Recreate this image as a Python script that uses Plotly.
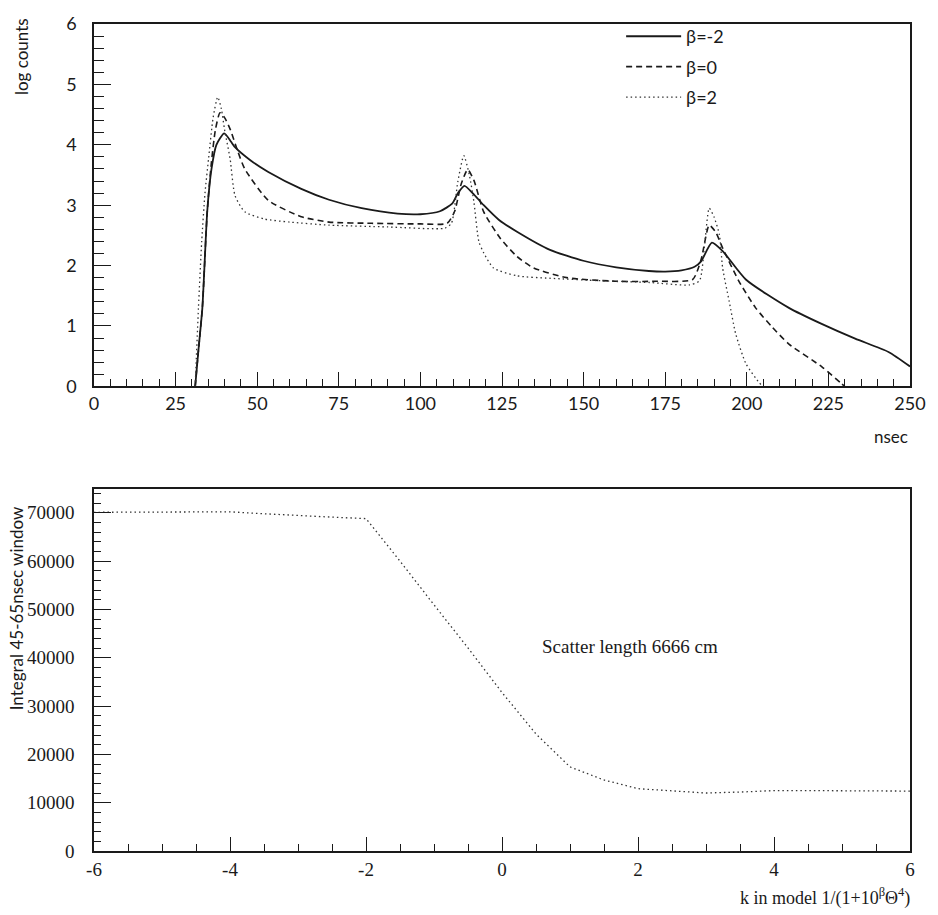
import plotly.graph_objects as go

# ---- top panel: log counts vs time for three beta values ----
t_bm2 = [31, 32, 33.2, 34.7, 36, 37.5, 39.9, 42, 43.2, 48, 53.4, 63.5, 72, 82, 93, 100, 106,
         109.8, 111.5, 113.5, 116, 119.4, 124, 129.6, 139.7, 149.9, 160, 170, 175, 180, 184,
         186, 189.3, 192.6, 199.7, 212.9, 223.1, 233.2, 243.4, 250]
y_bm2 = [0, 0.6, 1.3, 2.9, 3.6, 4.0, 4.19, 4.05, 3.96, 3.74, 3.55, 3.27, 3.09, 2.95, 2.86, 2.85, 2.9,
         3.03, 3.2, 3.32, 3.2, 3.0, 2.76, 2.56, 2.26, 2.08, 1.97, 1.91, 1.90, 1.92, 1.98,
         2.07, 2.38, 2.24, 1.77, 1.30, 1.03, 0.79, 0.57, 0.33]

t_b0 = [31, 32, 33.2, 34.7, 36, 37.2, 38.6, 40, 41.7, 44, 46.2, 53.4, 63.5, 72, 85, 100, 108.2,
        110.5, 112.5, 114.5, 116.4, 119.4, 124.5, 129.6, 134.7, 144.8, 160, 172.3, 183.4, 186,
        188.5, 190.5, 192.6, 197.6, 202.7, 207.8, 212.9, 223.1, 228.7, 230]
y_b0 = [0, 0.6, 1.3, 2.9, 3.72, 4.25, 4.53, 4.45, 4.26, 3.9, 3.60, 3.08, 2.81, 2.72, 2.70, 2.69, 2.70,
        2.9, 3.35, 3.59, 3.41, 2.89, 2.45, 2.15, 1.96, 1.80, 1.74, 1.74, 1.77, 2.1,
        2.67, 2.55, 2.29, 1.74, 1.30, 0.98, 0.70, 0.32, 0.06, 0]

t_b2 = [31, 32, 33, 34, 35.1, 36.5, 37.9, 39, 40, 41.7, 43.2, 46.2, 52.3, 60, 72, 90, 107.5,
        109.5, 111.5, 113.3, 115, 116.4, 117.9, 119.4, 122.4, 129.6, 139.7, 155, 170.2, 182.4,
        185.5, 187, 188.5, 190, 191.6, 192.6, 194.6, 196.6, 199.7, 203.8, 205]
y_b2 = [0, 1.3, 2.4, 3.2, 3.77, 4.45, 4.79, 4.6, 4.25, 3.77, 3.16, 2.89, 2.77, 2.72, 2.67, 2.64, 2.62,
        2.7, 3.4, 3.82, 3.5, 3.05, 2.40, 2.21, 1.96, 1.83, 1.79, 1.75, 1.72, 1.68,
        1.75, 2.3, 2.95, 2.8, 2.51, 1.96, 1.41, 0.87, 0.38, 0.06, 0]

nsec_ticks = [0, 25, 50, 75, 100, 125, 150, 175, 200, 225, 250]

# ---- bottom panel: integral of the 45-65 nsec window vs k ----
k_vals = [-6, -5.5, -5, -4.5, -4, -3.5, -3, -2.5, -2, -1.5, -1, -0.5, 0, 0.5, 1,
          1.5, 2, 2.5, 3, 3.5, 4, 4.5, 5, 5.5, 6]
integral_vals = [70100, 70100, 70100, 70200, 70200, 69800, 69400, 69100, 68800, 60000, 50950,
                 42030, 32800, 24220, 17400, 14700, 12900, 12400, 12000, 12200, 12500, 12500,
                 12500, 12400, 12400]

k_ticks = [-6, -4, -2, 0, 2, 4, 6]
k_ticktext = ["-6", "-4", "-2", "0", "2", "4", "6"]

W, H = 938, 915
ML, MR, MT, MB = 94, 22, 18, 64
PW, PH = W - ML - MR, H - MT - MB


def xp(px):
    return (px - ML) / PW


def yp(py):
    return (H - MB - py) / PH


INK = "#1a1a1a"
SANS = "Lato"
SERIF = "Liberation Serif"

fig = go.Figure()
fig.add_trace(go.Scatter(x=t_bm2, y=y_bm2, mode="lines", name="β=-2", legendgroup="a",
                         line=dict(color=INK, width=1.8, dash="solid", shape="spline", smoothing=0.6),
                         xaxis="x", yaxis="y"))
fig.add_trace(go.Scatter(x=t_b0, y=y_b0, mode="lines", name="β=0", legendgroup="b",
                         line=dict(color=INK, width=1.6, dash="6px,4px", shape="spline", smoothing=0.6),
                         xaxis="x", yaxis="y"))
fig.add_trace(go.Scatter(x=t_b2, y=y_b2, mode="lines", name="β=2", legendgroup="c",
                         line=dict(color="#333333", width=1.3, dash="1.5px,3px", shape="spline", smoothing=0.6),
                         xaxis="x", yaxis="y"))
fig.add_trace(go.Scatter(x=k_vals, y=integral_vals, mode="lines", showlegend=False,
                         line=dict(color="#333333", width=1.3, dash="1.5px,3px"),
                         xaxis="x2", yaxis="y2"))

axis_common = dict(showline=True, linecolor=INK, linewidth=1.5, mirror=True,
                   showgrid=False, zeroline=False, ticks="inside", tickcolor=INK)

top_dom = [yp(383), 1.0]
bot_dom = [0.0, yp(486)]

fig.update_layout(
    width=W, height=H,
    margin=dict(l=ML, r=MR, t=MT, b=MB),
    paper_bgcolor="white", plot_bgcolor="white",
    showlegend=True,
    legend=dict(x=xp(625), y=yp(12), xanchor="left", yanchor="top",
                bgcolor="rgba(0,0,0,0)", borderwidth=0, itemwidth=55,
                tracegroupgap=4, font=dict(family=SANS, size=18, color=INK)),
    xaxis=dict(domain=[0, 1], anchor="y", range=[0, 250], tickvals=nsec_ticks,
               ticklen=15, tickwidth=1.3,
               minor=dict(dtick=5, tick0=0, ticks="inside", ticklen=8, tickcolor=INK, tickwidth=1.1),
               tickfont=dict(family=SANS, size=18, color=INK), **axis_common),
    yaxis=dict(domain=top_dom, anchor="x", range=[0, 6], dtick=1, tick0=0,
               ticklen=17, tickwidth=1.3, ticklabelstandoff=12,
               minor=dict(dtick=0.2, tick0=0, ticks="inside", ticklen=10, tickcolor=INK, tickwidth=1.1),
               tickfont=dict(family=SANS, size=18, color=INK), **axis_common),
    xaxis2=dict(domain=[0, 1], anchor="y2", range=[-6, 6], tickvals=k_ticks, ticktext=k_ticktext,
                ticklen=14, tickwidth=1.3,
                minor=dict(dtick=0.5, tick0=0, ticks="inside", ticklen=7, tickcolor=INK, tickwidth=1.1),
                tickfont=dict(family=SERIF, size=19, color=INK), **axis_common),
    yaxis2=dict(domain=bot_dom, anchor="x2", range=[0, 75000], dtick=10000, tick0=0, tickformat="d",
                ticklen=17, tickwidth=1.3, ticklabelstandoff=14,
                minor=dict(dtick=2000, tick0=0, ticks="inside", ticklen=7, tickcolor=INK, tickwidth=1.1),
                tickfont=dict(family=SERIF, size=19, color=INK), **axis_common),
)

fig.add_annotation(text="log counts", xref="paper", yref="paper", x=xp(21), y=yp(10),
                   xanchor="center", yanchor="top", textangle=-90, showarrow=False,
                   font=dict(family=SANS, size=17, color=INK))
fig.add_annotation(text="nsec", xref="paper", yref="paper", x=xp(916), y=yp(433),
                   xanchor="right", yanchor="middle", showarrow=False,
                   font=dict(family=SANS, size=17, color=INK))
fig.add_annotation(text="Integral 45-65nsec window", xref="paper", yref="paper", x=xp(16), y=yp(607),
                   xanchor="center", yanchor="middle", textangle=-90, showarrow=False,
                   font=dict(family=SANS, size=17, color=INK))
fig.add_annotation(text="k in model 1/(1+10<sup>β</sup>Θ<sup>4</sup>)", xref="paper", yref="paper",
                   x=xp(918), y=yp(897), xanchor="right", yanchor="middle", showarrow=False,
                   font=dict(family=SERIF, size=18, color=INK))
fig.add_annotation(text="Scatter length 6666 cm", xref="paper", yref="paper", x=xp(543), y=yp(645),
                   xanchor="left", yanchor="middle", showarrow=False,
                   font=dict(family=SERIF, size=19, color=INK))

fig.write_html("out.html")
